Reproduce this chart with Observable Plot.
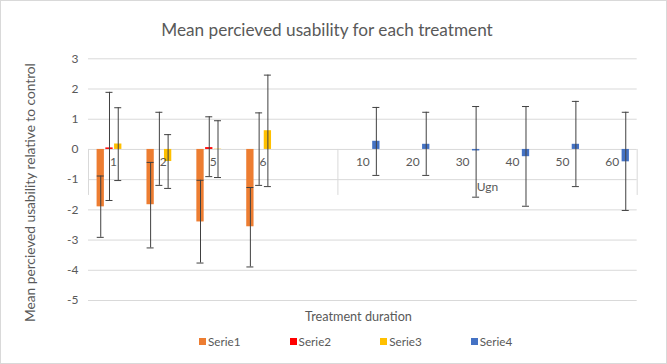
<!DOCTYPE html>
<html>
<head>
<meta charset="utf-8">
<script src="https://cdn.jsdelivr.net/npm/d3@7"></script>
<script src="https://cdn.jsdelivr.net/npm/@observablehq/plot@0.6"></script>
<style>
  body { margin: 0; background: #fff; }
  #chart { position: relative; width: 667px; height: 364px; box-sizing: border-box; border: 1px solid #d9d9d9;
           font-family: Lato, "Open Sans", sans-serif; color: #595959; background: #fff; overflow: hidden; }
  #title { height: 44px; box-sizing: border-box; padding-top: 19px; padding-right: 13px; text-align: center;
           font-size: 17.2px; line-height: 19px; white-space: nowrap; }
  #xtitle { position: absolute; top: 307px; left: 50px; width: 615px; text-align: center; font-size: 12.7px; line-height: 16px; }
  #legend { position: absolute; top: 334px; left: 198px; display: flex; font-size: 11.7px; line-height: 12px; }
  .item { width: 90.6px; display: flex; align-items: center; }
  .sw { width: 7px; height: 7px; margin-right: 2px; }
  svg { display: block; }
</style>
</head>
<body>
<div id="chart">
  <div id="title"></div>
  <div id="plot"></div>
  <div id="xtitle"></div>
  <div id="legend"></div>
</div>
<script>
// ---- data ----
const titleText = "Mean percieved usability for each treatment";
const yTitle = "Mean percieved usability relative to control";
const xTitle = "Treatment duration";
const categories = ["1", "2", "5", "6", "", "10", "20", "30", "40", "50", "60"];
const groupNames = ["", "Ugn"];
const groupSizes = [5, 6];
const yTicks = [-5, -4, -3, -2, -1, 0, 1, 2, 3];
const seriesNames = ["Serie1", "Serie2", "Serie3", "Serie4"];

const serie1Mean = [-1.90, -1.83, -2.40, -2.56, null, null, null, null, null, null, null];
const serie1Low  = [-2.91, -3.26, -3.76, -3.89, null, null, null, null, null, null, null];
const serie1High = [-0.88, -0.43, -1.02, -1.26, null, null, null, null, null, null, null];

const serie2Mean = [0.05, 0.00, 0.06, 0.00, null, null, null, null, null, null, null];
const serie2Low  = [-1.69, -1.19, -0.90, -1.19, null, null, null, null, null, null, null];
const serie2High = [1.89, 1.23, 1.08, 1.21, null, null, null, null, null, null, null];

const serie3Mean = [0.18, -0.40, 0.01, 0.62, null, null, null, null, null, null, null];
const serie3Low  = [-1.03, -1.29, -0.93, -1.23, null, null, null, null, null, null, null];
const serie3High = [1.38, 0.49, 0.95, 2.46, null, null, null, null, null, null, null];

const serie4Mean = [null, null, null, null, null, 0.27, 0.17, -0.05, -0.24, 0.17, -0.41];
const serie4Low  = [null, null, null, null, null, -0.86, -0.86, -1.58, -1.88, -1.23, -2.02];
const serie4High = [null, null, null, null, null, 1.39, 1.23, 1.42, 1.42, 1.59, 1.23];

// ---- styles ----
const seriesColors = ["#ED7D31", "#FF0000", "#FFC000", "#4472C4"];
const errColor = "#404040";
const gridColor = "#d9d9d9";
const textColor = "#595959";

// ---- layout ----
const W = 665, H = 290;
const mL = 87, mR = 29.3, mT = 13.3, mB = 35;
const bw = (W - mL - mR) / categories.length;
const barW = 7.3, capW = 7;
const offsets = [-12.7, -3.95, 4.8, 13.5];

const means = [serie1Mean, serie2Mean, serie3Mean, serie4Mean];
const lows = [serie1Low, serie2Low, serie3Low, serie4Low];
const highs = [serie1High, serie2High, serie3High, serie4High];

const seriesRows = seriesNames.map((s, i) =>
  categories.map((c, j) => ({cat: c, series: s, mean: means[i][j], low: lows[i][j], high: highs[i][j]}))
    .filter(d => d.mean != null));

const seriesMarks = seriesRows.flatMap((rows, i) => {
  const off = offsets[i];
  const bl = bw / 2 + off - barW / 2, br = bw / 2 - off - barW / 2;
  const cl = bw / 2 + off - capW / 2, cr = bw / 2 - off - capW / 2;
  return [
    Plot.barY(rows, {x: "cat", y: "mean", fill: seriesColors[i], insetLeft: bl, insetRight: br}),
    Plot.ruleX(rows, {x: "cat", y1: "low", y2: "high", dx: off, stroke: errColor, strokeWidth: 1}),
    Plot.tickY(rows, {x: "cat", y: "low", insetLeft: cl, insetRight: cr, stroke: errColor, strokeWidth: 1}),
    Plot.tickY(rows, {x: "cat", y: "high", insetLeft: cl, insetRight: cr, stroke: errColor, strokeWidth: 1})
  ];
});

// group boundaries
const groupStarts = groupSizes.map((n, g) => d3.sum(groupSizes.slice(0, g)));
const leftEdges = groupStarts.map(s => categories[s]);
const rightEdges = [categories[categories.length - 1]];

const groupLabelMarks = groupNames.map((name, g) => {
  const n = groupSizes[g], s = groupStarts[g];
  const mid = categories[s + Math.floor(n / 2)];
  return Plot.text([{cat: mid, name}], {x: "cat", y: () => 0, text: "name", dx: n % 2 === 0 ? -bw / 2 : 0, dy: 37.5,
    fill: textColor, fontSize: 12});
});

const chart = Plot.plot({
  width: W, height: H,
  marginLeft: mL, marginRight: mR, marginTop: mT, marginBottom: mB,
  x: {type: "band", domain: categories, padding: 0, round: false, axis: null},
  y: {domain: [-5, 3], ticks: 8, tickSize: 0, tickPadding: 10, tickFormat: d => String(d), label: null},
  style: {fontFamily: "Lato, 'Open Sans', sans-serif", fontSize: "12px", color: textColor, background: "white", overflow: "visible"},
  marks: [
    Plot.ruleY(yTicks, {stroke: gridColor, strokeWidth: 1}),
    Plot.ruleX(leftEdges, {x: d => d, y1: () => 0, y2: () => 0, insetBottom: -46, dx: -bw / 2, stroke: gridColor}),
    Plot.ruleX(rightEdges, {x: d => d, y1: () => 0, y2: () => 0, insetBottom: -46, dx: bw / 2, stroke: gridColor}),
    ...seriesMarks,
    Plot.text(categories, {x: d => d, y: () => 0, text: d => d, dy: 13, fill: textColor, fontSize: 12}),
    ...groupLabelMarks,
    Plot.text([yTitle], {frameAnchor: "left", textAnchor: "middle", lineAnchor: "middle", text: d => d, rotate: -90,
      dx: -58, dy: 12.9, fontSize: 13.7, fill: textColor})
  ]
});
document.getElementById("plot").appendChild(chart);
document.getElementById("title").textContent = titleText;
document.getElementById("xtitle").textContent = xTitle;

const legend = document.getElementById("legend");
seriesNames.forEach((s, i) => {
  const item = document.createElement("div");
  item.className = "item";
  const sw = document.createElement("span");
  sw.className = "sw";
  sw.style.background = seriesColors[i];
  const t = document.createElement("span");
  t.textContent = s;
  item.appendChild(sw);
  item.appendChild(t);
  legend.appendChild(item);
});
</script>
</body>
</html>
